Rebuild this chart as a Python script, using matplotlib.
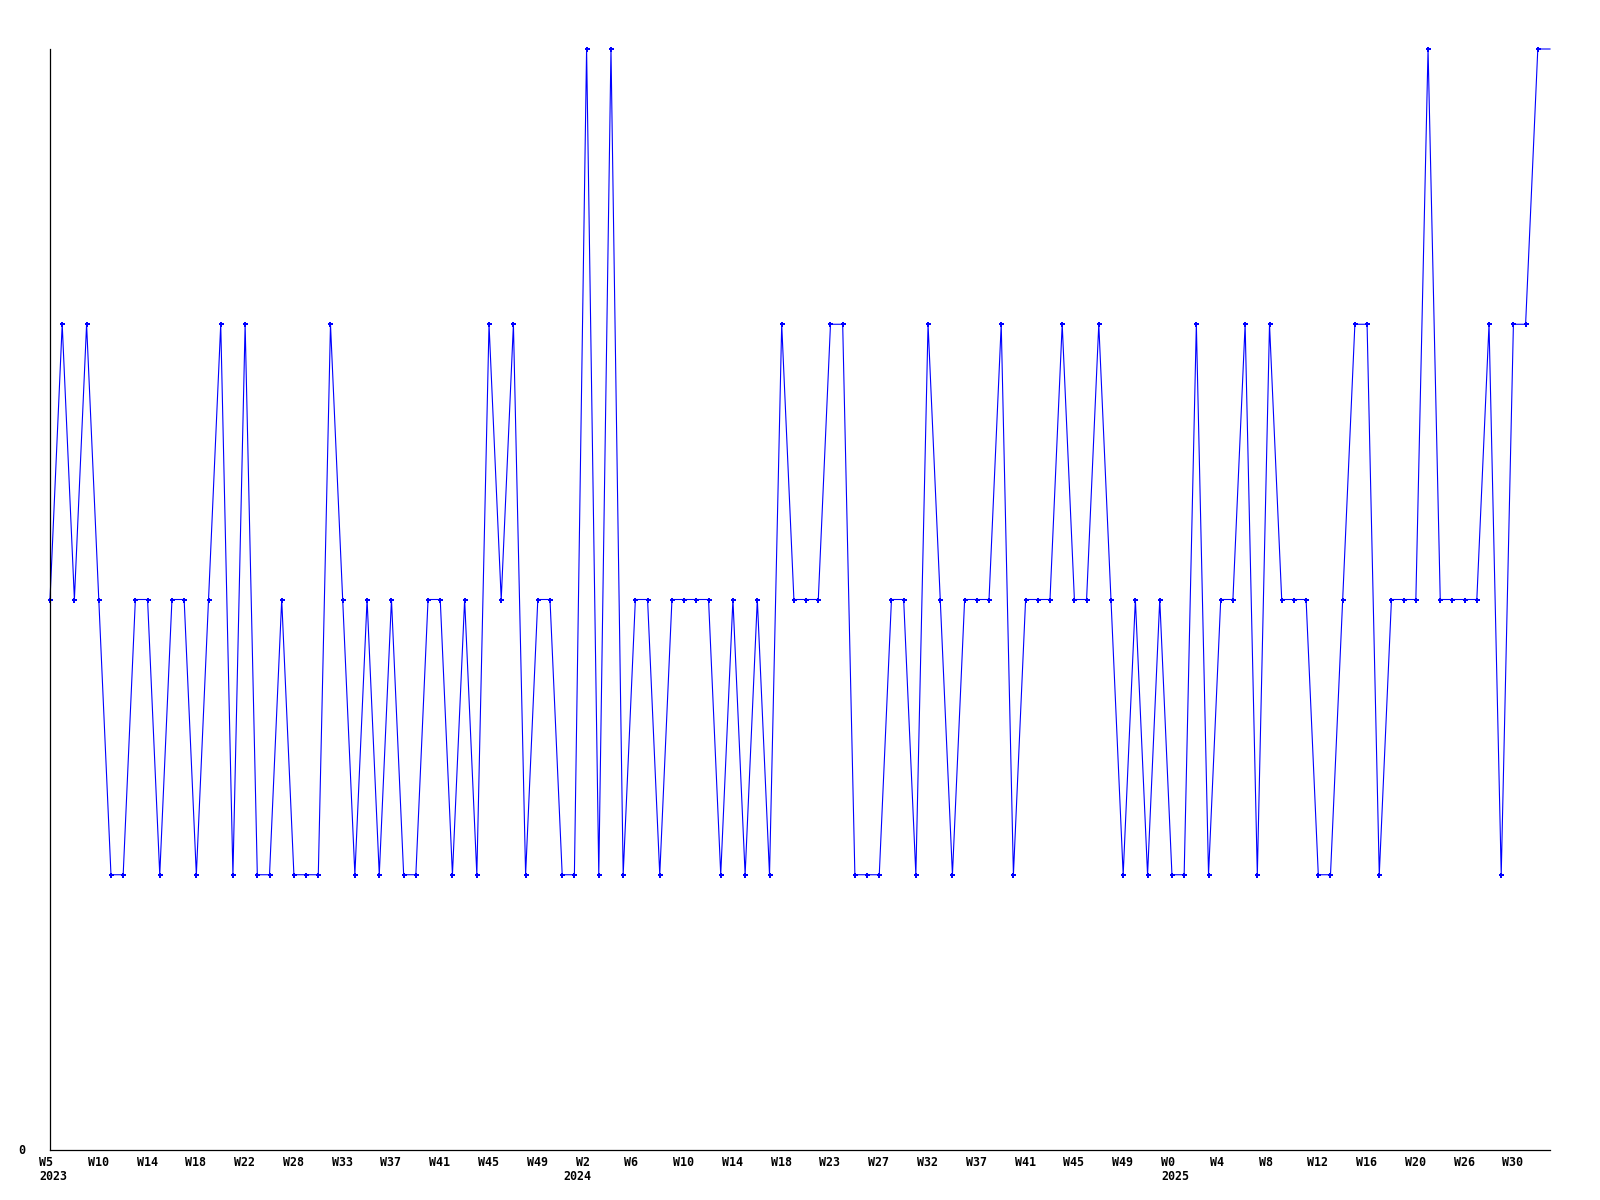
import matplotlib
matplotlib.use("Agg")
import matplotlib.pyplot as plt
import matplotlib.transforms as mtransforms

# weekly counts, one per point (last value has no marker, line just runs on)
values = [2, 3, 2, 3, 2, 1, 1, 2, 2, 1, 2, 2, 1, 2, 3, 1, 3, 1, 1, 2, 1, 1,
          1, 3, 2, 1, 2, 1, 2, 1, 1, 2, 2, 1, 2, 1, 3, 2, 3, 1, 2, 2, 1,
          1, 4, 1, 4, 1, 2, 2, 1, 2, 2, 2, 2, 1, 2, 1, 2, 1, 3, 2, 2, 2, 3, 3,
          1, 1, 1, 2, 2, 1, 3, 2, 1, 2, 2, 2, 3, 1, 2, 2, 2, 3, 2,
          2, 3, 2, 1, 2, 1, 2, 1, 1, 3, 1, 2, 2, 3, 1, 3, 2, 2, 2, 1,
          1, 2, 3, 3, 1, 2, 2, 2, 4, 2, 2, 2, 2, 3, 1, 3, 3, 4, 4]
n_marked = 123

week_labels = ["W5", "W10", "W14", "W18", "W22", "W28", "W33", "W37", "W41",
               "W45", "W49", "W2", "W6", "W10", "W14", "W18", "W23", "W27",
               "W32", "W37", "W41", "W45", "W49", "W0", "W4", "W8", "W12",
               "W16", "W20", "W26", "W30"]
label_step = 4
year_labels = ["2023", "2024", "2025"]
year_index = [0, 43, 92]

W, H = 1600, 1200
fig = plt.figure(figsize=(W / 100, H / 100), dpi=100)
ax = fig.add_axes([50 / W, 1 - 1150 / H, 1500 / W, 1101 / H])

xs = list(range(len(values)))
ax.plot(xs, values, color="#0000ff", lw=0.8, marker="P", ms=3.6, mew=0,
        markevery=list(range(n_marked)), clip_on=False)

ax.set_xlim(0, len(values) - 1)
ax.set_ylim(0, 4)
for s in ["top", "right"]:
    ax.spines[s].set_visible(False)
for s in ["left", "bottom"]:
    ax.spines[s].set_linewidth(0.9)
ax.set_xticks([])
ax.set_yticks([])

font = dict(family="DejaVu Sans Mono", weight="bold", fontsize=8.4)
xtr = ax.get_xaxis_transform()
week_tr = mtransforms.offset_copy(xtr, fig=fig, x=-11, y=-12, units="dots")
year_tr = mtransforms.offset_copy(xtr, fig=fig, x=-11, y=-27, units="dots")
for i, lab in enumerate(week_labels):
    ax.text(i * label_step, 0, lab, transform=week_tr, ha="left", va="center", **font)
for idx, lab in zip(year_index, year_labels):
    ax.text(idx, 0, lab, transform=year_tr, ha="left", va="center", **font)

ytr = mtransforms.offset_copy(ax.get_yaxis_transform(), fig=fig, x=-25, y=0, units="dots")
ax.text(0, 0, "0", transform=ytr, ha="right", va="center", **font)

fig.savefig("out.png", dpi=100)
